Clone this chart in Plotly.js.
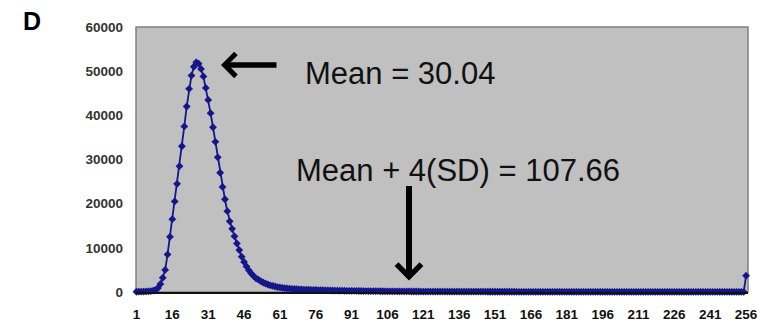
<!DOCTYPE html>
<html>
<head>
<meta charset="utf-8">
<script src="https://cdn.plot.ly/plotly-3.0.1.min.js"></script>
<style>
html,body{margin:0;padding:0;background:#fff;}
#chart{width:760px;height:328px;}
</style>
</head>
<body>
<div id="chart"></div>
<script>
// Data
var counts = [
  60, 70, 80, 100, 120, 150, 200, 300, 500, 900,
  1800, 3200, 5000, 8500, 12500, 16500, 20500, 24500, 28500, 33000,
  37500, 42000, 46000, 49000, 51000, 52000, 51700, 50500, 48800, 46200,
  43500, 40500, 37300, 34000, 30500, 27000, 23800, 21000, 18300, 16000,
  14300, 12600, 11000, 9500, 8000, 6800, 5800, 4900, 4200, 3600,
  3100, 2800, 2450, 2150, 1900, 1700, 1520, 1370, 1240, 1120,
  1030, 950, 880, 820, 770, 720, 680, 640, 610, 580,
  555, 530, 505, 485, 465, 450, 435, 420, 405, 390,
  375, 360, 345, 330, 318, 306, 295, 284, 274, 264,
  255, 246, 238, 230, 222, 215, 208, 201, 195, 189,
  183, 177, 172, 167, 162, 157, 152, 148, 144, 140,
  136, 132, 128, 124, 121, 118, 115, 112, 109, 106,
  103, 100, 98, 96, 94, 92, 90, 88, 86, 84,
  82, 80, 78, 76, 75, 74, 73, 72, 71, 70,
  69, 68, 67, 66, 65, 64, 63, 62, 61, 60,
  59, 58, 57, 56, 55, 54, 53, 52, 51, 50,
  49, 48, 47, 46, 45, 44, 43, 42, 41, 40,
  40, 39, 39, 38, 38, 37, 37, 36, 36, 35,
  35, 34, 34, 33, 33, 32, 32, 31, 31, 30,
  30, 30, 29, 29, 29, 28, 28, 28, 27, 27,
  27, 26, 26, 26, 25, 25, 25, 24, 24, 24,
  23, 23, 23, 22, 22, 22, 21, 21, 21, 20,
  20, 20, 20, 19, 19, 19, 19, 18, 18, 18,
  18, 17, 17, 17, 17, 16, 16, 16, 16, 15,
  15, 15, 15, 15, 14, 14, 14, 14, 14, 13,
  13, 13, 13, 12, 12, 3700
];
var categories = counts.map(function(_, i){ return i + 1; });
var xTickVals = [1, 16, 31, 46, 61, 76, 91, 106, 121, 136, 151, 166, 181, 196, 211, 226, 241, 256];
var xTickText = ["1","16","31","46","61","76","91","106","121","136","151","166","181","196","211","226","241","256"];
var yTickVals = [0, 10000, 20000, 30000, 40000, 50000, 60000];
var yTickText = ["0","10000","20000","30000","40000","50000","60000"];
var panelLabel = "D";
var meanText = "Mean = 30.04";
var cutoffText = "Mean + 4(SD) = 107.66";

// pixel helpers for placing annotations (plot area: x 136..748, y 27..292.5)
var L = 136, R = 748, T = 27, B = 292.5;
function px(x){ return (x - L) / (R - L); }
function py(y){ return (B - y) / (B - T); }

var FONT = "Liberation Sans, Arial, sans-serif";

var trace = {
  x: categories,
  y: counts,
  type: "scatter",
  mode: "lines+markers",
  line: {color: "#16168c", width: 1.8},
  marker: {symbol: "diamond", size: 6, color: "#16168c"},
  cliponaxis: false,
  hoverinfo: "skip"
};

var layout = {
  width: 760, height: 328,
  margin: {l: L, r: 760 - R, t: T, b: 328 - B},
  paper_bgcolor: "#ffffff",
  plot_bgcolor: "#c0c0c0",
  showlegend: false,
  xaxis: {
    range: [0.8, 256.8],
    tickmode: "array", tickvals: xTickVals, ticktext: xTickText,
    showgrid: false, zeroline: false,
    showline: true, linecolor: "#111111", linewidth: 1.5,
    ticks: "", ticklabelstandoff: 9,
    tickfont: {family: FONT, size: 13.5, color: "#111111", weight: "bold"}
  },
  yaxis: {
    range: [0, 60000],
    tickmode: "array", tickvals: yTickVals, ticktext: yTickText,
    showgrid: false, zeroline: false, showline: false,
    ticks: "", ticklabelstandoff: 12,
    tickfont: {family: FONT, size: 13.5, color: "#333333", weight: "bold"}
  },
  shapes: [
    {type: "rect", xref: "paper", yref: "paper", x0: 0, x1: 1, y0: 0, y1: 1,
     line: {color: "#808080", width: 1.5}, layer: "below"}
  ],
  annotations: [
    {xref: "paper", yref: "paper", x: px(32), y: py(21), text: panelLabel, showarrow: false,
     xanchor: "center", yanchor: "middle",
     font: {family: FONT, size: 25, color: "#000000", weight: "bold"}},
    {xref: "paper", yref: "paper", x: px(399.5), y: py(74), text: meanText, showarrow: false,
     xanchor: "center", yanchor: "middle",
     font: {family: FONT, size: 31, color: "#111111"}},
    {xref: "paper", yref: "paper", x: px(457.5), y: py(171), text: cutoffText, showarrow: false,
     xanchor: "center", yanchor: "middle",
     font: {family: FONT, size: 31, color: "#111111"}},
    {xref: "paper", yref: "paper", x: px(221), y: py(65), text: "", showarrow: true,
     axref: "pixel", ayref: "pixel", ax: 57, ay: 0,
     arrowhead: 4, arrowsize: 0.8, arrowwidth: 5.5, arrowcolor: "#000000", standoff: 0},
    {xref: "paper", yref: "paper", x: px(409), y: py(281), text: "", showarrow: true,
     axref: "pixel", ayref: "pixel", ax: 0, ay: -96,
     arrowhead: 4, arrowsize: 0.8, arrowwidth: 6, arrowcolor: "#000000", standoff: 0}
  ]
};

Plotly.newPlot("chart", [trace], layout, {displayModeBar: false, staticPlot: true});
</script>
</body>
</html>
